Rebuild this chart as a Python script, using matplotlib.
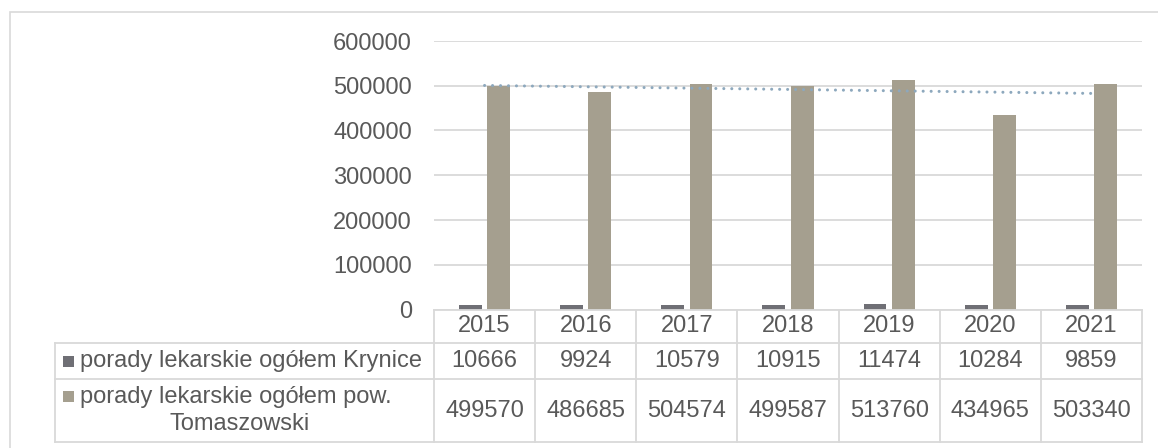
import numpy as np
import matplotlib
matplotlib.use("Agg")
import matplotlib.pyplot as plt
from matplotlib.patches import Rectangle
from matplotlib.lines import Line2D

# data
years = ["2015", "2016", "2017", "2018", "2019", "2020", "2021"]
krynice = [10666, 9924, 10579, 10915, 11474, 10284, 9859]
tomaszowski = [499570, 486685, 504574, 499587, 513760, 434965, 503340]
label_krynice = "porady lekarskie ogółem Krynice"
label_tom_1 = "porady lekarskie ogółem pow."
label_tom_2 = "Tomaszowski"
yticks = [0, 100000, 200000, 300000, 400000, 500000, 600000]

c_kry = "#6f6f75"
c_tom = "#a59f8f"
c_trend = "#8da8bd"
c_grid = "#d9d9d9"
c_text = "#595959"

plt.rcParams["font.family"] = ["Liberation Sans", "DejaVu Sans"]
FS = 17

W, H = 1158, 448
fig = plt.figure(figsize=(W / 100, H / 100), dpi=100)


def fx(px):
    return px / W


def fy(py):
    return 1 - py / H


# outer chart frame
fig.add_artist(Rectangle((fx(10), fy(470)), fx(1175) - fx(10), fy(12) - fy(470),
                         transform=fig.transFigure, fill=False, ec=c_grid, lw=1.2))

ax = fig.add_axes([fx(434), fy(309.5), fx(1142) - fx(434), fy(41) - fy(309.5)])
x = np.arange(len(years))
ax.bar(x - 0.14, krynice, width=0.225, color=c_kry, zorder=2)
ax.bar(x + 0.14, tomaszowski, width=0.225, color=c_tom, zorder=2)

# linear trend for the Tomaszowski series
k, b = np.polyfit(x, tomaszowski, 1)
ax.plot(x, k * x + b, color=c_trend, lw=2.2, linestyle=(0, (0.01, 2.6)),
        dash_capstyle="round", zorder=3)

ax.set_xlim(-0.5, len(years) - 0.5)
ax.set_ylim(0, 600000)
ax.set_yticks(yticks)
ax.set_yticklabels([str(v) for v in yticks], fontsize=FS, color=c_text)
ax.tick_params(axis="y", length=0, pad=16)
ax.set_xticks([])
ax.yaxis.grid(True, color=c_grid, lw=1.3)
ax.set_axisbelow(True)
for s in ax.spines.values():
    s.set_visible(False)


# data table under the axis
def col_px(v):
    return ax.transData.transform((v, 0))[0]


def hline(py, x0, x1):
    fig.add_artist(Line2D([fx(x0), fx(x1)], [fy(py), fy(py)], transform=fig.transFigure,
                          color=c_grid, lw=1.3))


def vline(px, y0, y1):
    fig.add_artist(Line2D([fx(px), fx(px)], [fy(y0), fy(y1)], transform=fig.transFigure,
                          color=c_grid, lw=1.3))


left = col_px(-0.5)
right = col_px(len(years) - 0.5)
hline(309.5, left, right)
for py in [343, 379, 442]:
    hline(py, 55, right)
vline(55, 343, 442)
for i in range(len(years) + 1):
    vline(col_px(i - 0.5), 309.5, 442)

for i in range(len(years)):
    cx = fx(col_px(i))
    fig.text(cx, fy(326), years[i], ha="center", va="center", fontsize=FS, color=c_text)
    fig.text(cx, fy(361), str(krynice[i]), ha="center", va="center", fontsize=FS, color=c_text)
    fig.text(cx, fy(410.5), str(tomaszowski[i]), ha="center", va="center", fontsize=FS, color=c_text)

fig.add_artist(Rectangle((fx(63), fy(367)), fx(11), fy(0) - fy(11),
                         transform=fig.transFigure, color=c_kry, lw=0))
fig.add_artist(Rectangle((fx(63), fy(402)), fx(11), fy(0) - fy(11),
                         transform=fig.transFigure, color=c_tom, lw=0))
fig.text(fx(80), fy(361), label_krynice, ha="left", va="center", fontsize=FS, color=c_text)
fig.text(fx(80), fy(397), label_tom_1, ha="left", va="center", fontsize=FS, color=c_text)
fig.text(fx(240), fy(424), label_tom_2, ha="center", va="center", fontsize=FS, color=c_text)

fig.savefig("out.png", dpi=100)
